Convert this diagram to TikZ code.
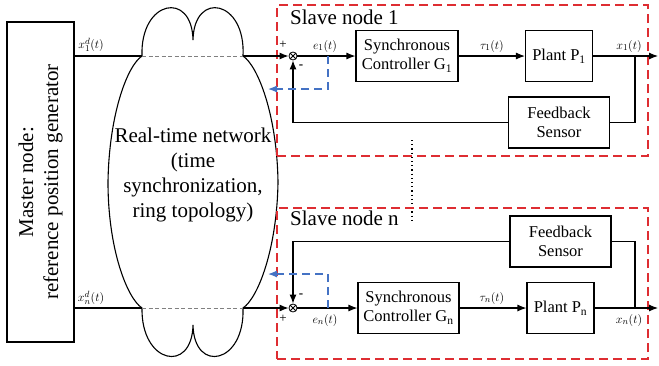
\documentclass[tikz,border=0pt]{standalone}
\usepackage{fontspec}
\setmainfont{Liberation Serif}
\usetikzlibrary{arrows.meta,positioning}
\definecolor{slavered}{RGB}{222,45,50}
\definecolor{netblue}{RGB}{68,114,196}
\tikzset{
  wire/.style={draw,line width=1.1pt},
  sig/.style={draw,line width=1.1pt,-{Latex[length=9pt,width=7pt]}},
  blk/.style={draw,line width=1.1pt,minimum height=51pt,inner sep=2pt,align=center,font=\fontsize{16.5}{19}\selectfont},
  lbl/.style={font=\fontsize{13}{15}\selectfont,inner sep=1pt},
  pm/.style={font=\fontsize{13}{15}\selectfont,inner sep=0pt},
  bigtxt/.style={align=center,font=\fontsize{21}{25}\selectfont},
  slavebox/.style={draw=slavered,line width=1.4pt,dash pattern=on 9pt off 5pt,minimum width=371pt,minimum height=151pt},
  netlink/.style={draw=netblue,line width=1.2pt,dash pattern=on 8pt off 5pt,-{Latex[length=9pt,width=7pt]}},
  sum/.style={circle,draw,line width=0.8pt,minimum size=8pt,inner sep=0pt},
}
\begin{document}
\begin{tikzpicture}[x=1pt,y=-1pt]
  \useasboundingbox (0,0) rectangle (659,365);
  % master
  \node (master) at (40.5,182) [draw,line width=1.1pt,minimum width=67pt,minimum height=320pt] {};
  \node (mtxt) at (master.center) [bigtxt,rotate=90] {Master node:\\reference position generator};
  % network cloud
  \coordinate (cin1) at (142,56);
  \coordinate (cout1) at (243,56);
  \coordinate (cinn) at (142,308);
  \coordinate (coutn) at (243,308);
  \draw [line width=1.1pt] (cin1) .. controls (140,0) and (192,-10) .. (193,40)
        .. controls (194,-10) and (246,0) .. (cout1)
        .. controls (258,66) and (277,115) .. (278,182)
        .. controls (277,249) and (258,298) .. (coutn)
        .. controls (245,364) and (194,374) .. (193,325)
        .. controls (192,374) and (141,364) .. (cinn)
        .. controls (127,298) and (108,249) .. (108,182)
        .. controls (109,115) and (127,66) .. (cin1) -- cycle;
  \draw [gray,line width=0.9pt,dash pattern=on 4pt off 2.5pt] (cin1) -- (cout1);
  \draw [gray,line width=0.9pt,dash pattern=on 4pt off 2.5pt] (cinn) -- (coutn);
  \node (net) at (193,175) [bigtxt] {Real-time network\\(time\\synchronization,\\ring topology)};
  % slave node 1
  \node (slave1) at (462.5,80.5) [slavebox] {};
  \node (sl1) at (290,24) [anchor=base west,font=\fontsize{21}{25}\selectfont,inner sep=0pt] {Slave node 1};
  \node (s1) at (293,56) [sum] {};
  \draw [line width=0.8pt] (s1.north west) -- (s1.south east) (s1.north east) -- (s1.south west);
  \node (ctrl1) at (407,56) [blk,minimum width=102pt] {Synchronous\\Controller G\textsubscript{1}};
  \node (plant1) at (559,56) [blk,minimum width=67pt] {Plant P\textsubscript{1}};
  \node (fb1) at (559,122.5) [blk,minimum width=101pt] {Feedback\\Sensor};
  \coordinate (tap1) at (635,56);
  \coordinate (out1) at (658,56);
  \draw [wire] (master.east |- cin1) -- (cin1);
  \draw [sig] (cout1) -- (s1);
  \draw [sig] (s1) -- (ctrl1);
  \draw [sig] (ctrl1) -- (plant1);
  \draw [sig] (plant1) -- (out1);
  \draw [wire] (tap1) |- (fb1);
  \draw [sig] (fb1) -| (s1);
  \coordinate (b1) at (328,56);
  \coordinate (cl1) at (268,89);
  \draw [netlink] (b1) |- (cl1);
  \node (xd1) at (91,45) [lbl] {$x_1^d(t)$};
  \node (e1) at (325,46) [lbl] {$e_1(t)$};
  \node (tau1) at (492,46) [lbl] {$\tau_1(t)$};
  \node (x1) at (629,46) [lbl] {$x_1(t)$};
  \node (p1) at (283,45) [pm] {+};
  \node (m1) at (301,67) [pm] {\textbf{-}};
  % dots between the slaves
  \coordinate (dtop) at (412,140);
  \coordinate (dbot) at (412,223);
  \draw [line width=1.1pt,dash pattern=on 1.2pt off 3pt] (dtop) -- (dbot);
  % slave node n
  \node (slaven) at (462.5,283.5) [slavebox] {};
  \node (sln) at (290,225) [anchor=base west,font=\fontsize{21}{25}\selectfont,inner sep=0pt] {Slave node n};
  \node (sn) at (293,308) [sum] {};
  \draw [line width=0.8pt] (sn.north west) -- (sn.south east) (sn.north east) -- (sn.south west);
  \node (ctrln) at (408.5,308) [blk,minimum width=101pt] {Synchronous\\Controller G\textsubscript{n}};
  \node (plantn) at (560.5,308) [blk,minimum width=67pt] {Plant P\textsubscript{n}};
  \node (fbn) at (560.5,241.5) [blk,minimum width=101pt] {Feedback\\Sensor};
  \coordinate (tapn) at (635,308);
  \coordinate (outn) at (658,308);
  \draw [wire] (master.east |- cinn) -- (cinn);
  \draw [sig] (coutn) -- (sn);
  \draw [sig] (sn) -- (ctrln);
  \draw [sig] (ctrln) -- (plantn);
  \draw [sig] (plantn) -- (outn);
  \draw [wire] (tapn) |- (fbn);
  \draw [sig] (fbn) -| (sn);
  \coordinate (bn) at (328,308);
  \coordinate (cln) at (268,274);
  \draw [netlink] (bn) |- (cln);
  \node (xdn) at (91,298) [lbl] {$x_n^d(t)$};
  \node (en) at (325,320) [lbl] {$e_n(t)$};
  \node (taun) at (492,298) [lbl] {$\tau_n(t)$};
  \node (xn) at (629,320) [lbl] {$x_n(t)$};
  \node (pn) at (283,319) [pm] {+};
  \node (mn) at (301,296) [pm] {\textbf{-}};
\end{tikzpicture}
\end{document}
